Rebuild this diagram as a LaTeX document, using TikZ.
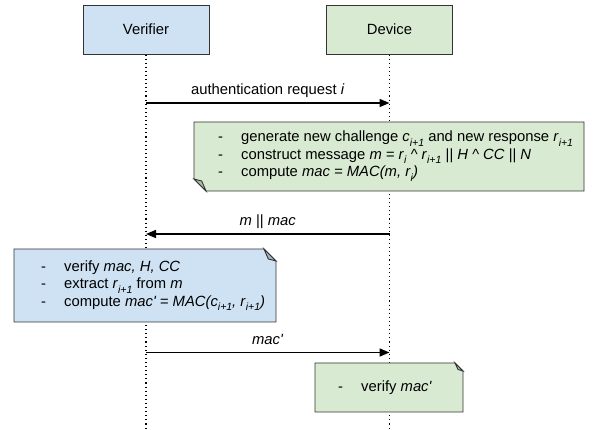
\documentclass[tikz,border=0pt]{standalone}
\usepackage{fontspec}
\setmainfont{Liberation Sans}
\usetikzlibrary{arrows.meta,backgrounds}

\definecolor{verifierblue}{HTML}{CFE2F3}
\definecolor{devicegreen}{HTML}{D9EAD3}
\definecolor{edgegray}{HTML}{333333}

\newcommand{\lowidx}[1]{\raisebox{-0.6ex}{\fontsize{10.5}{10.5}\selectfont\itshape #1}}
\newcommand{\dashitem}[1]{\makebox[23pt][l]{-}#1}

\tikzset{
  actor/.style={draw=edgegray, line width=0.9pt, minimum width=126pt, minimum height=49pt},
  lifeline/.style={line width=1.1pt, dash pattern=on 1.1pt off 3pt},
  msg/.style={line width=1.5pt, -{Triangle[length=10pt,width=8pt]}},
  msglabel/.style={midway, anchor=base, yshift=8pt, inner sep=0pt},
  notebox/.style={draw=edgegray, line width=0.9pt},
  notetext/.style={anchor=west, align=left, inner sep=0pt},
}

\begin{document}
\begin{tikzpicture}[x=1pt, y=-1pt, font=\fontsize{14.8}{17.5}\selectfont]
\useasboundingbox (0,0) rectangle (595,430);

% participants
\node[actor, fill=verifierblue] (verifier) at (146,29.5) {Verifier};
\node[actor, fill=devicegreen] (device) at (389.5,29.5) {Device};
\coordinate (vend) at (146,430);
\coordinate (dend) at (389.5,430);

% messages
\coordinate (reqv) at (146,103);
\coordinate (reqd) at (389.5,103);
\draw[msg] (reqv) -- node[msglabel] {authentication request \textit{i}} (reqd);

\coordinate (macd) at (389.5,234);
\coordinate (macv) at (146,234);
\draw[msg] (macd) -- node[msglabel] {\textit{m} || \textit{mac}} (macv);

\coordinate (ackv) at (146,352.5);
\coordinate (ackd) at (389.5,352.5);
\draw[msg] (ackv) -- node[msglabel] {\textit{mac\textquotesingle}} (ackd);

% notes
\node[notetext] (gennote) at (218,156) {%
  \dashitem{generate new challenge \textit{c}\lowidx{i+1} and new response \textit{r}\lowidx{i+1}}\\
  \dashitem{construct message \textit{m = r}\lowidx{i} \textit{\textasciicircum\ r}\lowidx{i+1} \textit{|| H \textasciicircum\ CC || N}}\\
  \dashitem{compute \textit{mac = MAC(m, r}\lowidx{i}\textit{)}}};

\node[notetext] (checknote) at (41,285.5) {%
  \dashitem{verify \textit{mac, H, CC}}\\
  \dashitem{extract \textit{r}\lowidx{i+1} from \textit{m}}\\
  \dashitem{compute \textit{mac\textquotesingle\ = MAC(c}\lowidx{i+1}\textit{, r}\lowidx{i+1}\textit{)}}};

\node[notetext] (acknote) at (338,387.5) {\dashitem{verify \textit{mac\textquotesingle}}};

\begin{scope}[on background layer]
\draw[lifeline] (verifier.south) -- (vend);
\draw[lifeline] (device.south) -- (dend);

% folded note shapes
\filldraw[notebox, fill=devicegreen] (194,122) -- (584,122) -- (584,191) -- (206,191) -- (194,179) -- cycle;
\filldraw[notebox, fill=devicegreen!80!black] (194,179) -- (206,191) -- (201.7,181) -- cycle;

\filldraw[notebox, fill=verifierblue] (14,249) -- (264,249) -- (276,261) -- (276,322) -- (14,322) -- cycle;
\filldraw[notebox, fill=verifierblue!80!black] (264,249) -- (276,261) -- (268.3,259) -- cycle;

\filldraw[notebox, fill=devicegreen] (315,363) -- (455,363) -- (463,371) -- (463,412) -- (315,412) -- cycle;
\filldraw[notebox, fill=devicegreen!80!black] (455,363) -- (463,371) -- (458,369.5) -- cycle;
\end{scope}
\end{tikzpicture}
\end{document}
